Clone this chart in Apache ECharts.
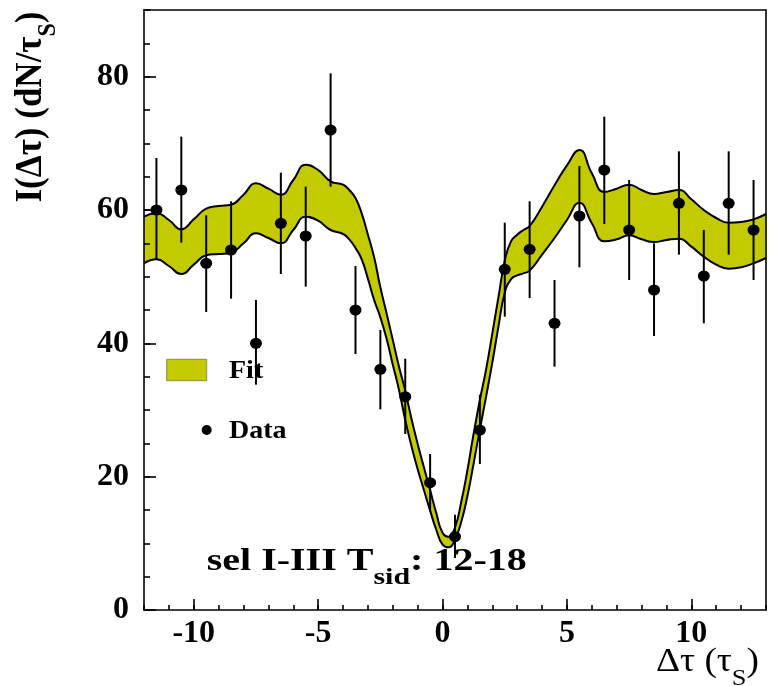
<!DOCTYPE html>
<html><head><meta charset="utf-8">
<script src="https://cdn.jsdelivr.net/npm/echarts@6/dist/echarts.min.js"></script>
<style>html,body{margin:0;padding:0;background:#fff}#c{width:770px;height:686px}</style>
</head><body><div id="c"></div>
<script>
// ---- data points (Δτ, I) with error-bar bounds ----
const dataX  = [-11.5,-10.5,-9.5,-8.5,-7.5,-6.5,-5.5,-4.5,-3.5,-2.5,-1.5,-0.5,0.5,1.5,2.5,3.5,4.5,5.5,6.5,7.5,8.5,9.5,10.5,11.5,12.5];
const dataY  = [60,63,52,54,40,58,56.1,72,45,36.1,32,19.1,11,27,51.1,54.1,43,59.1,66,57,48,61,50.1,61,57];
const dataHi = [67.8,71,59.2,61.3,46.5,65.6,63.5,80.5,51.6,42,37.7,23.4,14.3,32.3,58.1,61.3,49.5,66.6,74,64.5,55,68.8,57,68.8,64.5];
const dataLo = [52.5,55.1,44.7,46.7,33.8,50.4,48.5,63.5,38.4,30.1,26.4,14.8,7.8,21.9,44,46.8,36.5,51.4,57.9,49.5,41.1,53.3,43,53.3,49.5];

// ---- fit band (upper / lower edges) ----
const fitX = [-12,-11.5,-11,-10.5,-10,-9.5,-9,-8.5,-8,-7.5,-7,-6.5,-6,-5.5,-5,-4.5,-4,
  -3.75,-3.5,-3.25,-3,-2.75,-2.5,-2.25,-2,-1.75,-1.5,-1.25,-1,-0.75,-0.5,-0.25,0,0.25,0.5,0.75,1,1.25,1.5,1.75,2,2.25,2.5,2.75,3,3.25,3.5,
  4,4.5,5,5.5,6,6.5,7,7.5,8,8.5,9,9.5,10,10.5,11,11.5,12,12.5,13];
const fitUpper = [59.0,59.5,58.5,57.1,58.6,60.2,60.6,60.8,62.3,64.0,63.2,62.3,64.5,66.8,66.0,64.3,63.8,
  63.0,61.8,59.5,56.3,52.9,48.4,44.5,40.5,36.5,32.9,28.7,24.9,21.4,18.0,14.5,11.6,11.0,12.4,16.2,21.0,26.5,31.5,36.1,41.5,47.0,52.4,55.3,56.3,57.0,57.6,
  60.5,63.7,66.7,69.0,65.5,62.7,63.2,63.8,63.0,62.4,62.7,63.0,61.6,60.0,58.8,58.1,58.2,58.6,59.4];
const fitLower = [52.0,52.6,51.6,50.4,51.8,53.2,53.4,53.6,55.0,56.5,55.8,55.0,57.0,59.0,58.4,57.0,56.4,
  55.6,54.3,52.6,49.7,46.5,43.9,40.7,36.8,33.0,28.5,24.6,21.1,18.0,14.9,12.0,9.8,9.4,10.6,13.2,17.1,22.0,27.1,32.0,37.1,42.6,47.6,49.6,50.2,50.5,50.9,
  53.3,55.8,58.5,61.1,58.0,55.3,55.6,56.2,55.6,55.2,55.5,55.7,54.5,53.0,51.8,51.2,51.4,52.0,52.8];

// ---- ticks ----
const xMajorTicks = [-10,-5,0,5,10];
const yMajorTicks = [0,20,40,60,80];

const SERIF = '"Liberation Serif","DejaVu Serif",serif';
const FIT_COLOR = '#c3cb00';
const BLACK = '#000';
const lineSt = {color: BLACK, width: 1.6};

const chart = echarts.init(document.getElementById('c'), null, {renderer: 'canvas'});

function xAx(extra) {
  return Object.assign({
    type: 'value', min: -12, max: 13, interval: 1, position: 'bottom', z: 10,
    axisLine: {show: false, onZero: false, lineStyle: lineSt},
    axisTick: {show: false, inside: true, lineStyle: lineSt},
    axisLabel: {show: false},
    splitLine: {show: false}, minorTick: {show: false}
  }, extra);
}
function yAx(extra) {
  return Object.assign({
    type: 'value', min: 0, max: 90, interval: 5, position: 'left', z: 10,
    axisLine: {show: false, onZero: false, lineStyle: lineSt},
    axisTick: {show: false, inside: true, lineStyle: lineSt},
    axisLabel: {show: false},
    splitLine: {show: false}, minorTick: {show: false}
  }, extra);
}

const labelStyle = {show: true, fontSize: 32, fontWeight: 'bold', fontFamily: SERIF, color: BLACK};

const option = {
  animation: false,
  backgroundColor: '#fff',
  grid: {left: 144, right: 4, top: 10, bottom: 76, containLabel: false, outerBoundsMode: 'none'},
  xAxis: [
    xAx({axisLine: {show: true, onZero: false, lineStyle: lineSt},
         axisTick: {show: true, inside: true, length: 5, lineStyle: lineSt}}),
    xAx({axisTick: {show: true, inside: true, length: 11, customValues: xMajorTicks, lineStyle: lineSt},
         axisLabel: Object.assign({customValues: xMajorTicks, margin: 8}, labelStyle)}),
    xAx({position: 'top', axisLine: {show: true, onZero: false, lineStyle: lineSt}})
  ],
  yAxis: [
    yAx({axisLine: {show: true, onZero: false, lineStyle: lineSt},
         axisTick: {show: true, inside: true, length: 6, lineStyle: lineSt}}),
    yAx({axisTick: {show: true, inside: true, length: 12, customValues: yMajorTicks, lineStyle: lineSt},
         axisLabel: Object.assign({customValues: yMajorTicks, margin: 15}, labelStyle)}),
    yAx({position: 'right', axisLine: {show: true, onZero: false, lineStyle: lineSt}})
  ],
  series: [
    {
      name: 'Fit upper', type: 'line', xAxisIndex: 0, yAxisIndex: 0, z: 2,
      data: fitX.map((x, i) => [x, fitUpper[i]]),
      smooth: true, symbol: 'none', silent: true,
      lineStyle: {color: BLACK, width: 2},
      areaStyle: {color: FIT_COLOR, opacity: 1, origin: 'start'}
    },
    {
      name: 'Fit lower', type: 'line', xAxisIndex: 0, yAxisIndex: 0, z: 3,
      data: fitX.map((x, i) => [x, fitLower[i]]),
      smooth: true, symbol: 'none', silent: true,
      lineStyle: {color: BLACK, width: 2},
      areaStyle: {color: '#ffffff', opacity: 1, origin: 'start'}
    },
    {
      name: 'Errors', type: 'custom', xAxisIndex: 0, yAxisIndex: 0, z: 4,
      data: dataX.map((x, i) => [x, dataLo[i], dataHi[i]]),
      encode: {x: 0, y: [1, 2]},
      renderItem: function (params, api) {
        const p1 = api.coord([api.value(0), api.value(1)]);
        const p2 = api.coord([api.value(0), api.value(2)]);
        return {type: 'line', shape: {x1: p1[0], y1: p1[1], x2: p2[0], y2: p2[1]},
                style: {stroke: BLACK, lineWidth: 2}};
      }
    },
    {
      name: 'Data', type: 'scatter', xAxisIndex: 0, yAxisIndex: 0, z: 5,
      data: dataX.map((x, i) => [x, dataY[i]]),
      symbol: 'circle', symbolSize: [12, 11],
      itemStyle: {color: BLACK, opacity: 1}
    }
  ],
  graphic: {elements: [
    // y-axis title
    {type: 'text', x: 34, y: 107, rotation: Math.PI / 2, scaleY: 1.08, z: 100,
     style: {text: '{m|I(Δτ) (dN/τ}{s|S}{m|)}', align: 'center', verticalAlign: 'middle', fill: BLACK,
       rich: {
         m: {fontSize: 35, fontWeight: 'bold', fontFamily: SERIF, lineHeight: 40, verticalAlign: 'top'},
         s: {fontSize: 24, fontWeight: 'bold', fontFamily: SERIF, lineHeight: 24, verticalAlign: 'top', padding: [21, 0, 0, 0]}
       }}},
    // x-axis title
    {type: 'text', x: 759, y: 645, scaleX: 1.1, z: 100,
     style: {text: '{m|Δτ (τ}{s|S}{m|)}', align: 'right', verticalAlign: 'top', fill: BLACK,
       rich: {
         m: {fontSize: 34, fontFamily: SERIF, lineHeight: 40, verticalAlign: 'top'},
         s: {fontSize: 24, fontFamily: SERIF, lineHeight: 24, verticalAlign: 'top', padding: [22, 0, 0, 0]}
       }}},
    // legend
    {type: 'rect', z: 100, shape: {x: 166.7, y: 359.3, width: 40, height: 21.4},
     style: {fill: FIT_COLOR, stroke: '#8a8a55', lineWidth: 1}},
    {type: 'text', x: 229, y: 371.5, scaleX: 1.12, z: 100,
     style: {text: 'Fit', fontSize: 25, fontWeight: 'bold', fontFamily: SERIF, fill: BLACK, align: 'left', verticalAlign: 'middle'}},
    {type: 'circle', z: 100, shape: {cx: 206.7, cy: 430, r: 5}, style: {fill: BLACK}},
    {type: 'text', x: 229, y: 431.5, scaleX: 1.12, z: 100,
     style: {text: 'Data', fontSize: 25, fontWeight: 'bold', fontFamily: SERIF, fill: BLACK, align: 'left', verticalAlign: 'middle'}},
    // annotation
    {type: 'text', x: 206.7, y: 546, scaleX: 1.25, z: 100,
     style: {text: '{m|sel I-III T}{s|sid}{m|: 12-18}', align: 'left', verticalAlign: 'top', fill: BLACK,
       rich: {
         m: {fontSize: 32, fontWeight: 'bold', fontFamily: SERIF, lineHeight: 40, verticalAlign: 'top'},
         s: {fontSize: 24, fontWeight: 'bold', fontFamily: SERIF, lineHeight: 24, verticalAlign: 'top', padding: [20, 0, 0, 0]}
       }}}
  ]}
};
chart.setOption(option);
</script>
</body></html>
